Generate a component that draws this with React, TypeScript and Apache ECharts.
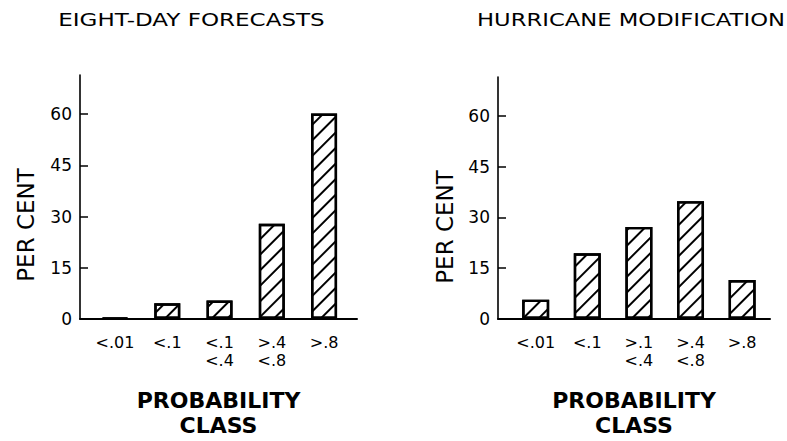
import React, { useEffect, useRef } from "react";
import * as echarts from "echarts";

const categoriesLeft = ["<.01", "<.1", "<.1\n<.4", ">.4\n<.8", ">.8"];
const categoriesRight = ["<.01", "<.1", ">.1\n<.4", ">.4\n<.8", ">.8"];
const eightDayValues = [0.3, 4.6, 5.4, 27.9, 60.2];
const hurricaneValues = [5.7, 19.4, 27.2, 34.8, 11.5];
const yTicks = [0, 15, 30, 45, 60];
const titleLeft = "EIGHT-DAY FORECASTS";
const titleRight = "HURRICANE MODIFICATION";
const yName = "PER CENT";
const xName = "PROBABILITY\nCLASS";

const FONT = "DejaVu Sans";

export default function App() {
  const ref = useRef<HTMLDivElement>(null);
  useEffect(() => {
    if (!ref.current) return;
    const chart = echarts.init(ref.current, null, { renderer: "svg" });
    const idx = [0, 1, 2, 3, 4];
    const decal = {
      symbol: "rect",
      symbolSize: 1,
      dashArrayX: [1, 0],
      dashArrayY: [1.2, 8.5],
      rotation: -Math.PI / 4,
      color: "#000",
      backgroundColor: "#fff",
    };
    const mkX = (gi: number, min: number, max: number, cats: string[]) => ({
      type: "value",
      gridIndex: gi,
      min,
      max,
      axisLine: { show: true, onZero: false, lineStyle: { color: "#000", width: 2 } },
      axisTick: { show: false },
      splitLine: { show: false },
      axisLabel: {
        customValues: idx,
        formatter: (v: number) => cats[Math.round(v)],
        color: "#000",
        fontFamily: FONT,
        fontSize: 16,
        lineHeight: 18,
        margin: 14,
        showMinLabel: true,
        showMaxLabel: true,
      },
      name: xName,
      nameLocation: "middle",
      nameGap: 69,
      nameTextStyle: {
        color: "#000",
        fontFamily: FONT,
        fontSize: 22,
        fontWeight: "bold",
        lineHeight: 25,
      },
    });
    const mkY = (gi: number) => ({
      type: "value",
      gridIndex: gi,
      min: 0,
      max: 71.5,
      axisLine: { show: true, onZero: false, lineStyle: { color: "#000", width: 1.6 } },
      axisTick: {
        show: true,
        inside: true,
        length: 8,
        customValues: yTicks,
        lineStyle: { color: "#000", width: 1.5 },
      },
      splitLine: { show: false },
      axisLabel: {
        customValues: yTicks,
        color: "#000",
        fontFamily: FONT,
        fontSize: 17,
        margin: 8,
      },
    });
    const barStyle = {
      color: "#fff",
      borderColor: "#000",
      borderWidth: 2.4,
      decal,
    };
    const txt = (x: number, y: number, text: string, extra: any = {}) => ({
      type: "text",
      x,
      y,
      style: {
        text,
        fill: "#000",
        fontFamily: FONT,
        fontSize: 18,
        align: "center",
        verticalAlign: "middle",
        ...extra,
      },
    });
    chart.setOption({
      animation: false,
      backgroundColor: "#fff",
      aria: { enabled: true, decal: { show: true } },
      grid: [
        { left: 80, top: 75, width: 277, height: 244, outerBoundsMode: "none", containLabel: false },
        { left: 498, top: 77, width: 272, height: 242, outerBoundsMode: "none", containLabel: false },
      ],
      xAxis: [mkX(0, -0.67, 4.63, categoriesLeft), mkX(1, -0.73, 4.54, categoriesRight)],
      yAxis: [mkY(0), mkY(1)],
      series: [
        {
          type: "bar",
          xAxisIndex: 0,
          yAxisIndex: 0,
          barWidth: 26,
          data: eightDayValues.map((v, i) => [i, v]),
          itemStyle: barStyle,
        },
        {
          type: "bar",
          xAxisIndex: 1,
          yAxisIndex: 1,
          barWidth: 27,
          data: hurricaneValues.map((v, i) => [i, v]),
          itemStyle: barStyle,
        },
      ],
      graphic: [
        { ...txt(191.5, 20, titleLeft), scaleX: 1.28 },
        { ...txt(631, 20, titleRight), scaleX: 1.26 },
        { ...txt(26, 225, yName, { fontSize: 23 }), rotation: Math.PI / 2 },
        { ...txt(445, 227, yName, { fontSize: 23 }), rotation: Math.PI / 2 },
      ],
    });
    return () => chart.dispose();
  }, []);
  return (
    <div
      ref={ref}
      style={{ position: "fixed", left: 0, top: 0, width: 787, height: 441 }}
    />
  );
}
